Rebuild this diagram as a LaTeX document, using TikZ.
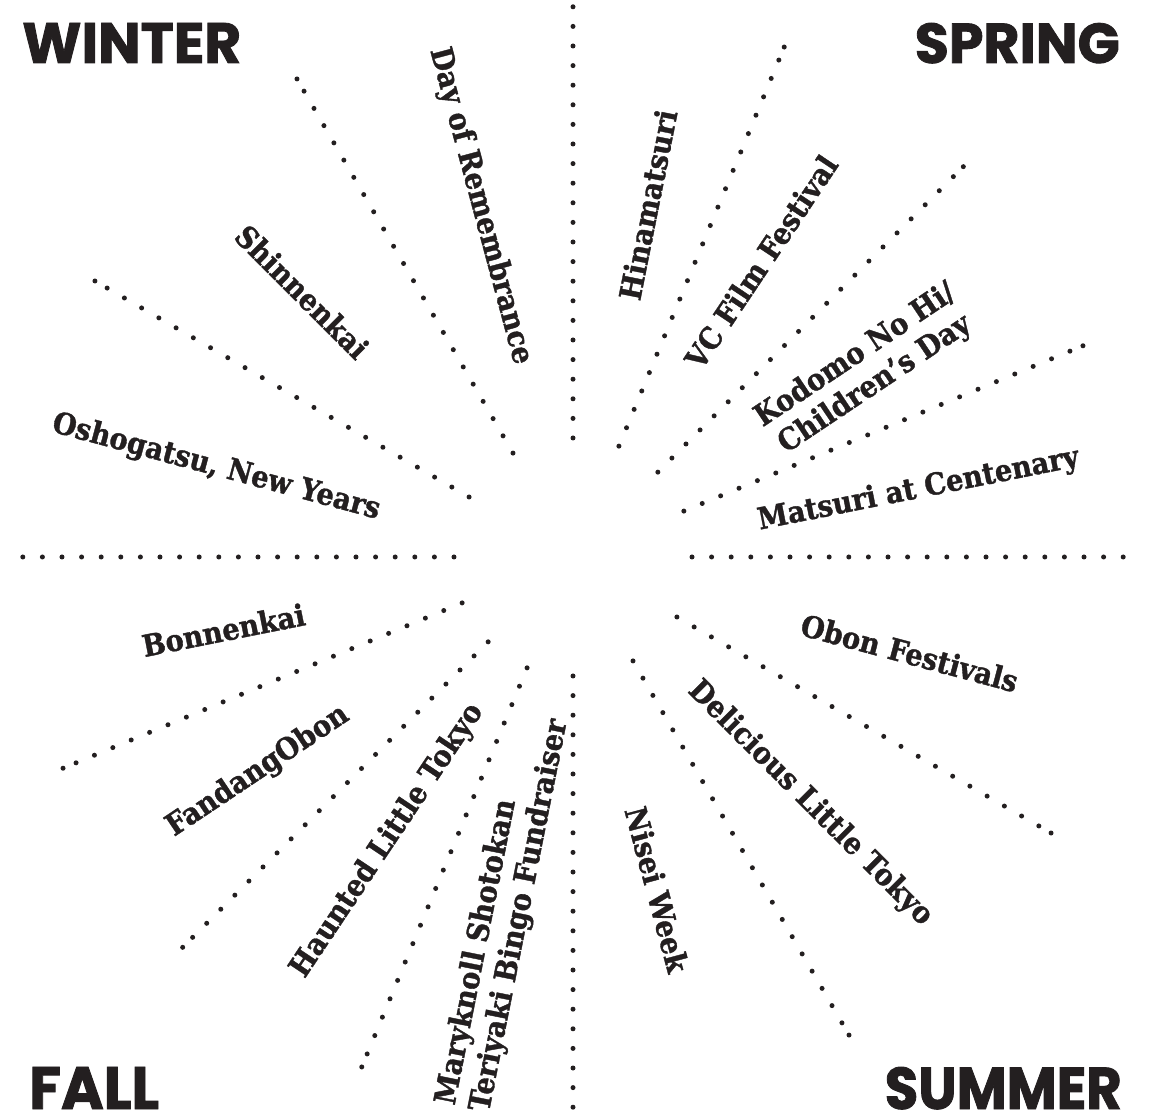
\documentclass[tikz,border=0pt]{standalone}
\usepackage{fontspec}
\usepackage{graphicx}
\newfontfamily\evfont{DejaVu Serif}[FakeStretch=0.91, BoldFeatures={FakeBold=1.2}]
\newfontfamily\seasonfont{Poppins}[BoldFeatures={FakeBold=1.5}]
\definecolor{ink}{HTML}{231F20}
\begin{document}
\begin{tikzpicture}[x=1pt,y=1pt,
  ev/.style={font=\evfont\bfseries\fontsize{30}{35}\selectfont, text=ink, inner sep=0pt},
  season/.style={text=ink, inner sep=0pt},
  dotmark/.style={fill=ink}]
\useasboundingbox (-573,-558) rectangle (583,557);
\fill[white] (-573,-558) rectangle (583,557);
% axis rays
\foreach \a in {0,90,180,270}{
  \foreach \k in {0,...,22}{
    \fill[dotmark] (\a:{119+\k*19.6}) circle (2.5pt);
  }
}
% diagonal rays
\foreach \a in {120,150,67.5,45,22.5,-30,-60,202.5,225,247.5}{
  \foreach \k in {0,...,21}{
    \fill[dotmark] (\a:{120+\k*19.9}) circle (2.5pt);
  }
  \fill[dotmark] (\a:552) circle (2.5pt);
}
% seasons
\node[season, anchor=base west] (winter) at (-551,494) {\resizebox{219pt}{40pt}{\seasonfont\bfseries WINTER}};
\node[season, anchor=base east] (spring) at (547,494) {\resizebox{205pt}{40pt}{\seasonfont\bfseries SPRING}};
\node[season, anchor=base west] (fall) at (-544,-552) {\resizebox{130pt}{42pt}{\seasonfont\bfseries FALL}};
\node[season, anchor=base east] (summer) at (549,-552) {\resizebox{237pt}{42pt}{\seasonfont\bfseries SUMMER}};
% winter events
\node[ev, rotate=-75] (dayrem) at (104.8:363) {Day of Remembrance};
\node[ev, rotate=-45] (shinnen) at (135.6:379) {Shinnenkai};
\node[ev, rotate=-15] (oshog) at (165.9:368) {Oshogatsu, New Years};
% spring events
\node[ev, rotate=78.75] (hina) at (78.0:360) {Hinamatsuri};
\node[ev, rotate=56.25] (vcfilm) at (57.5:350) {VC Film Festival};
\node[ev, rotate=33.75, align=center] (kodomo) at (32.6:347) {Kodomo No Hi/\\Children’s Day};
\node[ev, rotate=11.25] (matsuri) at (11.0:352) {Matsuri at Centenary};
% summer events
\node[ev, rotate=-15] (obon) at (-15.9:350) {Obon Festivals};
\node[ev, rotate=-45] (delic) at (-46.1:342) {Delicious Little Tokyo};
\node[ev, rotate=-75] (nisei) at (-75.8:343) {Nisei Week};
% fall events
\node[ev, rotate=11.25] (bonnen) at (191.8:357) {Bonnenkai};
\node[ev, rotate=33.75] (fandang) at (214.2:381) {FandangObon};
\node[ev, rotate=56.25] (haunted) at (236.8:339) {Haunted Little Tokyo};
\node[ev, rotate=78.75, align=left] (maryk) at (258.8:362) {Maryknoll Shotokan\\Teriyaki Bingo Fundraiser};
\end{tikzpicture}
\end{document}
